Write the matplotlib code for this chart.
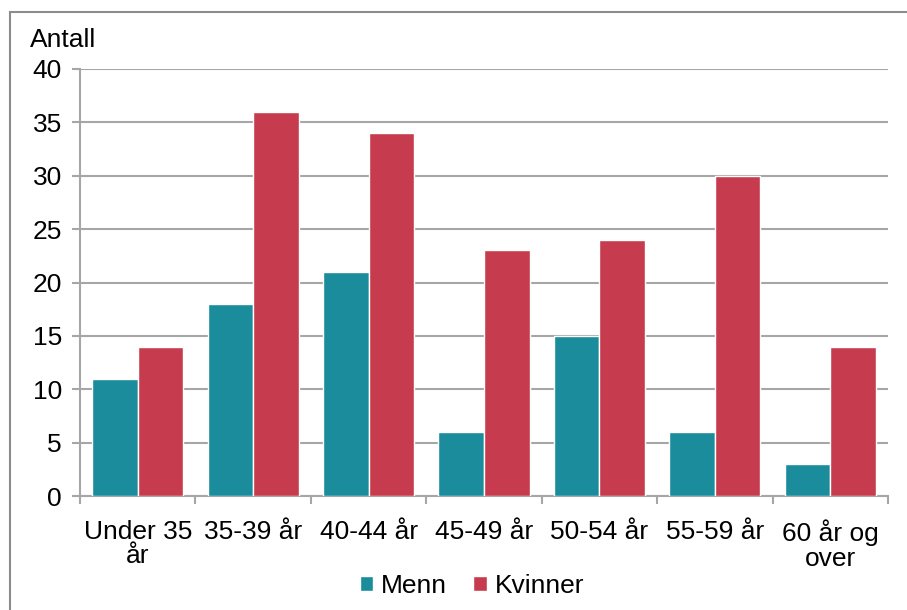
import numpy as np
import matplotlib
matplotlib.use('Agg')
import matplotlib.pyplot as plt
from matplotlib.patches import Rectangle

plt.rcParams['font.family'] = ['Liberation Sans', 'DejaVu Sans']

categories = ['Under 35\når', '35-39 år', '40-44 år', '45-49 år', '50-54 år', '55-59 år', '60 år og\nover']
menn = [11, 18, 21, 6, 15, 6, 3]
kvinner = [14, 36, 34, 23, 24, 30, 14]

teal = '#1a8c9c'
red = '#c63c4e'
grey = '#a6a6a6'
fs = 19

fig = plt.figure(figsize=(9.07, 6.10), dpi=100)
ax = fig.add_axes([80/907, 1-496/610, 808/907, 427/610])

x = np.arange(len(categories))
w = 0.395
b1 = ax.bar(x - w/2, menn, w, color=teal, edgecolor='white', linewidth=1, zorder=3, label='Menn')
b2 = ax.bar(x + w/2, kvinner, w, color=red, edgecolor='white', linewidth=1, zorder=3, label='Kvinner')

ax.set_xlim(-0.5, len(categories) - 0.5)
ax.set_ylim(0, 40)
ax.set_yticks(range(0, 41, 5))
ax.yaxis.grid(True, color=grey, linewidth=1.5, zorder=0)
ax.set_axisbelow(True)

ax.set_xticks(x)
ax.set_xticklabels(categories, fontsize=fs, linespacing=1.03)
ax.set_xticks(np.arange(-0.5, len(categories), 1), minor=True)
ax.tick_params(axis='x', which='major', length=0, pad=17)
ax.tick_params(axis='x', which='minor', length=6, width=1.5, color=grey, direction='out')
ax.tick_params(axis='y', length=6, width=1.5, color=grey, labelsize=fs, pad=7)

for s in ['top', 'right']:
    ax.spines[s].set_visible(False)
for s in ['left', 'bottom']:
    ax.spines[s].set_color(grey)
    ax.spines[s].set_linewidth(1.5)

fig.text(30/907, 1-40/610, 'Antall', fontsize=fs, va='center', ha='left')

fig.legend(handles=[b1, b2], labels=['Menn', 'Kvinner'], loc='center',
           bbox_to_anchor=(472/907, 1-586/610), ncol=2, frameon=False,
           fontsize=fs, handlelength=0.5, handleheight=0.5, handletextpad=0.3,
           columnspacing=1.0)

fig.patches.append(Rectangle((10/907, -0.1), 1.2, 1.1 - 12/610,
                             transform=fig.transFigure, fill=False,
                             edgecolor='#8c8c8c', linewidth=1.5))

fig.savefig('out.png', dpi=100)
